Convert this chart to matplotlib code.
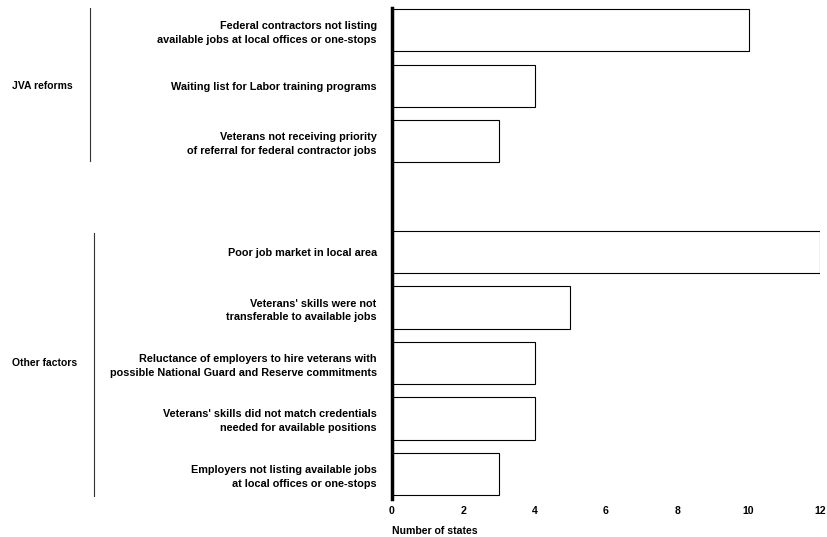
import matplotlib.pyplot as plt
from matplotlib.transforms import blended_transform_factory

plt.rcParams['font.family'] = ['Liberation Sans', 'DejaVu Sans']

##Factors reported by states, top to bottom (None = gap between groups)
labels = [
    'Federal contractors not listing\navailable jobs at local offices or one-stops',
    'Waiting list for Labor training programs',
    'Veterans not receiving priority\nof referral for federal contractor jobs',
    None,
    'Poor job market in local area',
    "Veterans' skills were not\ntransferable to available jobs",
    'Reluctance of employers to hire veterans with\npossible National Guard and Reserve commitments',
    "Veterans' skills did not match credentials\nneeded for available positions",
    'Employers not listing available jobs\nat local offices or one-stops',
]
values = [10, 4, 3, None, 12, 5, 4, 4, 3]

groups = ['JVA reforms', 'Other factors']
group_center = [1, 6]          ## slot of the group label
group_span = [(-0.4, 2.35), (3.65, 8.4)]

xticks = [0, 2, 4, 6, 8, 10, 12]

fig = plt.figure(figsize=(8.27, 5.37), dpi=100)
ax = fig.add_axes([0.474, 0.071, 0.5175, 0.914])

pos = [i for i, v in enumerate(values) if v is not None]
vals = [values[i] for i in pos]
ax.barh(pos, vals, height=0.76, color='white', edgecolor='black', linewidth=0.8)

ax.set_ylim(8.45, -0.4)
ax.set_xlim(0, 12)
ax.set_yticks(pos)
ax.set_yticklabels([labels[i] for i in pos], fontsize=7.8, fontweight='bold',
                   ha='right', linespacing=1.48)
ax.tick_params(axis='y', length=0, pad=11)
ax.set_xticks(xticks)
ax.set_xticklabels([str(t) for t in xticks], fontsize=7.6, fontweight='bold')
ax.tick_params(axis='x', length=0, pad=5)

for s in ['top', 'right', 'bottom']:
    ax.spines[s].set_visible(False)
ax.spines['left'].set_linewidth(2.5)

ax.set_xlabel('Number of states', fontsize=7.6, fontweight='bold', loc='left', labelpad=7)

## group labels and brackets on the far left
tr = blended_transform_factory(fig.transFigure, ax.transData)
for g, c, (y0, y1), xb in zip(groups, group_center, group_span, [0.109, 0.114]):
    ax.text(0.0145, c, g, transform=tr, fontsize=7.5, fontweight='bold',
            ha='left', va='center')
    ax.plot([xb, xb], [y0, y1], transform=tr, color='#333333', lw=0.8, clip_on=False)

fig.savefig('out.png', dpi=100)
